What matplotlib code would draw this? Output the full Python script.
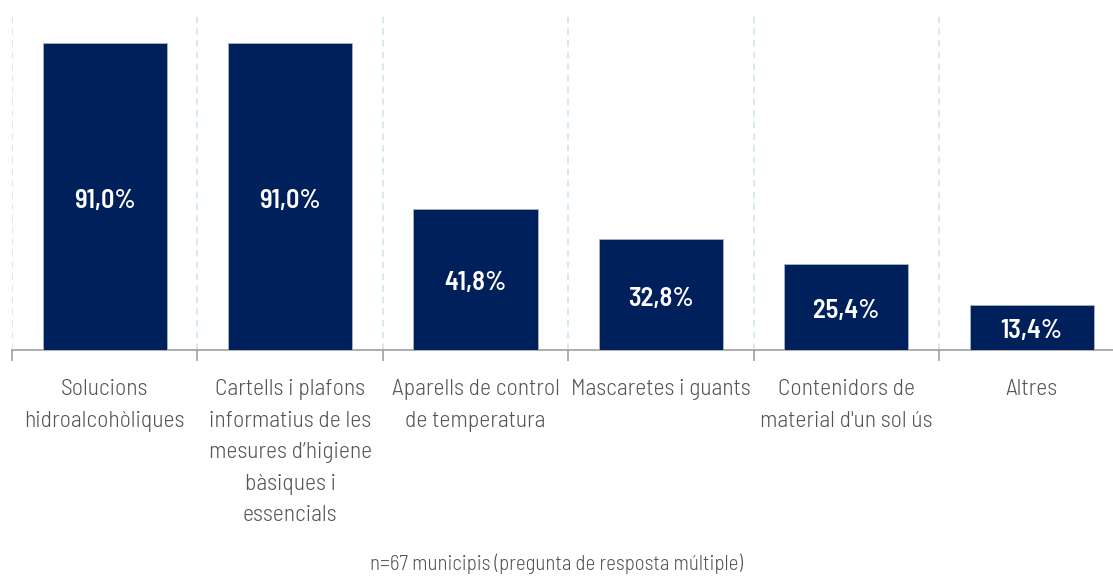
import matplotlib
matplotlib.use("Agg")
import matplotlib.pyplot as plt
from matplotlib.ticker import FixedLocator

categories = [
    "Solucions\nhidroalcohòliques",
    "Cartells i plafons\ninformatius de les\nmesures d\u2019higiene\nbàsiques i\nessencials",
    "Aparells de control\nde temperatura",
    "Mascaretes i guants",
    "Contenidors de\nmaterial d'un sol ús",
    "Altres",
]
values = [91.0, 91.0, 41.8, 32.8, 25.4, 13.4]
value_labels = ["91,0%", "91,0%", "41,8%", "32,8%", "25,4%", "13,4%"]
footnote = "n=67 municipis (pregunta de resposta múltiple)"

FONT = ["Barlow Semi Condensed", "DejaVu Sans"]
plt.rcParams['font.family'] = FONT

W, H = 1113, 576
fig = plt.figure(figsize=(W / 100, H / 100), dpi=100)
left = 12 / W
bottom = 1 - 350 / H
top = 1 - 12 / H
ax = fig.add_axes([left, bottom, 1 - left, top - bottom])

x = list(range(len(categories)))
ax.bar(x, values, width=0.67, color="#00205B", edgecolor="#aab4c6",
       linewidth=0.6, zorder=3)
for xi, v, lab in zip(x, values, value_labels):
    ax.annotate(lab, (xi, v / 2), xytext=(0, -4), textcoords="offset pixels",
                ha="center", va="center", color="white",
                fontsize=19, fontweight=600, zorder=4)

ax.set_ylim(0, 100.2)
ax.set_xlim(-0.5, (W - 12) / 185.4 - 0.5)

for s in ["top", "left", "right"]:
    ax.spines[s].set_visible(False)
ax.spines["bottom"].set_color("#a0a0a0")
ax.spines["bottom"].set_linewidth(1.2)

ax.set_yticks([])
ax.set_xticks(x)
ax.set_xticklabels(categories, fontsize=17, color="#555555", linespacing=1.66,
                   fontweight=300)
ax.tick_params(axis="x", which="major", length=0, pad=21)
bounds = [i - 0.5 for i in range(len(categories) + 1)]
ax.xaxis.set_minor_locator(FixedLocator(bounds))
ax.tick_params(axis="x", which="minor", length=8, width=1.2, color="#a0a0a0")
for b in bounds:
    ax.axvline(b, color="#cfe6ef", linestyle=(0, (4, 3)), linewidth=1.2, zorder=1)

fig.text(0.5, 1 - 564 / H, footnote, ha="center", va="center",
         fontsize=15, color="#555555", fontweight=300)

fig.savefig("out.png", dpi=100)
